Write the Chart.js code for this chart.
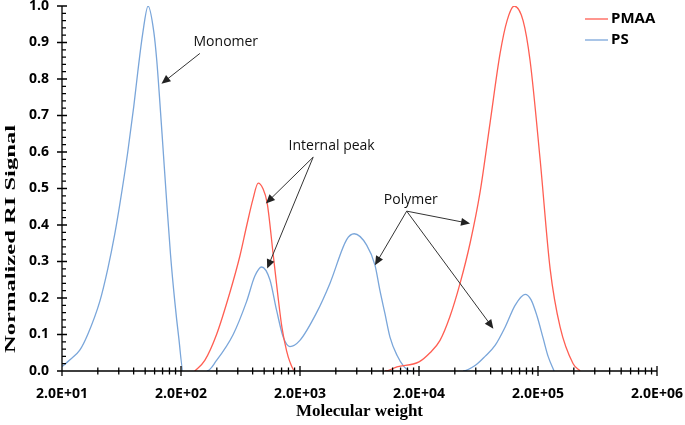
<!DOCTYPE html>
<html>
<head>
<meta charset="utf-8">
<script src="https://cdn.jsdelivr.net/npm/chart.js@4.4.1/dist/chart.umd.min.js"></script>
<style>
  body { margin: 0; background: #fff; }
  #grafico { display: block; }
</style>
</head>
<body>
<canvas id="grafico" width="685" height="425"></canvas>
<script>
// Datos: peso molecular (eje log) y señal RI normalizada
const pesoPS = [20, 23.2, 28.2, 32.9, 41.5, 48.5, 55.5, 61.1, 71.4, 80.2, 86.7, 95.4, 105.8, 118.1, 125.2, 132.6, 140.6, 150.4, 163.2, 177.4, 191.7, 208.3,
  330, 398, 549, 711, 835, 951, 1117, 1272, 1445, 1645, 1996, 2758, 3568, 4932, 5712, 7264, 8532, 9398, 10352, 11406, 13062, 14952, 17124,
  46900, 59160, 71800, 87160, 105780, 128360, 155800, 175000, 196500, 220800, 243200, 273200];
const senalPS = [0.012, 0.03, 0.057, 0.10, 0.19, 0.28, 0.375, 0.455, 0.60, 0.725, 0.82, 0.925, 1.0, 0.93, 0.85, 0.74, 0.62, 0.48, 0.32, 0.19, 0.09, 0,
  0, 0.029, 0.10, 0.19, 0.26, 0.285, 0.25, 0.166, 0.093, 0.067, 0.084, 0.16, 0.24, 0.36, 0.376, 0.345, 0.29, 0.22, 0.157, 0.093, 0.043, 0.012, 0,
  0, 0.015, 0.04, 0.07, 0.12, 0.18, 0.21, 0.195, 0.15, 0.09, 0.04, 0];

const pesoPMAA = [261, 317, 398, 515, 625, 715, 804, 890, 975, 1060, 1190, 1311, 1409, 1543, 1645, 1812,
  10352, 13062, 20000, 24750, 30040, 36460, 44260, 53720, 65200, 79120, 96020, 109940, 125900, 149860, 171640, 208300, 252900, 306900, 394700, 452100];
const senalPMAA = [0, 0.029, 0.10, 0.215, 0.315, 0.40, 0.47, 0.515, 0.50, 0.46, 0.32, 0.20, 0.12, 0.055, 0.025, 0,
  0, 0.011, 0.025, 0.05, 0.084, 0.15, 0.24, 0.35, 0.49, 0.68, 0.87, 0.96, 1.0, 0.96, 0.85, 0.58, 0.28, 0.12, 0.02, 0];

const series = ["PMAA", "PS"];
const colores = ["#FF5E52", "#7AA6DA"];

// Marcas del eje x: cada decada empieza en 2 x 10^n
const decadas = [20, 200, 2000, 20000, 200000, 2000000];

// Textos con flechas (posicion en unidades de los datos)
const anotaciones = [
  { texto: "Monomer", x: 476, y: 0.90, origen: [288, 0.87], puntas: [[137, 0.787]] },
  { texto: "Internal peak", x: 3688, y: 0.616, origen: [2582, 0.586], puntas: [[1034, 0.459], [1060, 0.281]] },
  { texto: "Polymer", x: 17060, y: 0.468, origen: [15760, 0.438], puntas: [[53700, 0.404], [8532, 0.29], [84340, 0.116]] }
];

function armarPuntos(pesos, senales) {
  return pesos.map((p, i) => ({ x: p, y: senales[i] }));
}

function formatoCientifico(valor) {
  const exp = Math.round(Math.log10(valor / 2));
  return "2.0E+" + String(exp).padStart(2, "0");
}

// No dibujar los tramos que quedan sobre el eje (señal 0)
const tramoCero = ctx => (ctx.p0.parsed.y === 0 && ctx.p1.parsed.y === 0) ? "rgba(0,0,0,0)" : undefined;

function flecha(ctx, x0, y0, x1, y1) {
  const ang = Math.atan2(y1 - y0, x1 - x0);
  const largo = 9, ancho = 4;
  ctx.beginPath();
  ctx.moveTo(x0, y0);
  ctx.lineTo(x1 - Math.cos(ang) * largo * 0.8, y1 - Math.sin(ang) * largo * 0.8);
  ctx.stroke();
  ctx.beginPath();
  ctx.moveTo(x1, y1);
  ctx.lineTo(x1 - Math.cos(ang) * largo + Math.sin(ang) * ancho, y1 - Math.sin(ang) * largo - Math.cos(ang) * ancho);
  ctx.lineTo(x1 - Math.cos(ang) * largo - Math.sin(ang) * ancho, y1 - Math.sin(ang) * largo + Math.cos(ang) * ancho);
  ctx.closePath();
  ctx.fill();
}

const dibujoExtra = {
  id: "dibujoExtra",
  afterDatasetsDraw(chart) {
    const ctx = chart.ctx;
    const ejeX = chart.scales.x;
    const ejeY = chart.scales.y;
    const area = chart.chartArea;
    ctx.save();

    // ejes y marcas
    ctx.strokeStyle = "#000";
    ctx.lineWidth = 1.3;
    ctx.beginPath();
    ctx.moveTo(area.left, area.top);
    ctx.lineTo(area.left, area.bottom);
    ctx.lineTo(area.right, area.bottom);
    for (let v = 0; v <= 50; v++) {
      const py = ejeY.getPixelForValue(v / 50);
      const mayor = v % 5 === 0;
      ctx.moveTo(area.left - (mayor ? 5 : 0), py);
      ctx.lineTo(area.left + (mayor ? 5 : 4), py);
    }
    decadas.forEach((d, i) => {
      for (let k = 1; k <= 9; k++) {
        if (i === decadas.length - 1 && k > 1) break;
        const px = ejeX.getPixelForValue(d * k);
        const alto = k === 1 ? 5 : 3.5;
        ctx.moveTo(px, area.bottom - alto);
        ctx.lineTo(px, area.bottom + alto);
      }
    });
    ctx.stroke();

    // etiquetas del eje x
    ctx.fillStyle = "#000";
    ctx.font = "bold 14px 'Open Sans'";
    ctx.textAlign = "center";
    ctx.textBaseline = "middle";
    decadas.forEach(d => {
      ctx.fillText(formatoCientifico(d), ejeX.getPixelForValue(d), area.bottom + 23);
    });

    // titulo del eje y (estirado como en el original)
    ctx.save();
    ctx.font = "bold 15px 'Liberation Serif'";
    const tituloY = "Normalized RI Signal";
    const estirar = 228 / ctx.measureText(tituloY).width;
    ctx.translate(11, 239);
    ctx.rotate(-Math.PI / 2);
    ctx.scale(estirar, 1);
    ctx.fillText(tituloY, 0, 0);
    ctx.restore();

    // leyenda
    ctx.font = "bold 15px 'Open Sans'";
    ctx.textBaseline = "middle";
    ctx.textAlign = "left";
    ctx.lineWidth = 1.3;
    series.forEach((nombre, i) => {
      const y = 19 + i * 21;
      ctx.strokeStyle = colores[i];
      ctx.beginPath();
      ctx.moveTo(585, y);
      ctx.lineTo(608, y);
      ctx.stroke();
      ctx.fillStyle = "#000";
      ctx.fillText(nombre, 611, y);
    });

    // anotaciones con flechas
    ctx.font = "14px 'Open Sans'";
    ctx.textAlign = "center";
    ctx.strokeStyle = "#333";
    ctx.lineWidth = 1;
    anotaciones.forEach(a => {
      ctx.fillStyle = "#111";
      ctx.fillText(a.texto, ejeX.getPixelForValue(a.x), ejeY.getPixelForValue(a.y));
      const ox = ejeX.getPixelForValue(a.origen[0]);
      const oy = ejeY.getPixelForValue(a.origen[1]);
      ctx.fillStyle = "#222";
      a.puntas.forEach(p => {
        flecha(ctx, ox, oy, ejeX.getPixelForValue(p[0]), ejeY.getPixelForValue(p[1]));
      });
    });
    ctx.restore();
  }
};

const fuenteTicks = { family: "'Open Sans'", weight: "bold", size: 14 };

new Chart(document.getElementById("grafico").getContext("2d"), {
  type: "line",
  data: {
    datasets: [
      {
        label: series[0],
        data: armarPuntos(pesoPMAA, senalPMAA),
        borderColor: colores[0],
        borderWidth: 1.3,
        pointRadius: 0,
        cubicInterpolationMode: "monotone",
        segment: { borderColor: tramoCero }
      },
      {
        label: series[1],
        data: armarPuntos(pesoPS, senalPS),
        borderColor: colores[1],
        borderWidth: 1.3,
        pointRadius: 0,
        cubicInterpolationMode: "monotone",
        segment: { borderColor: tramoCero }
      }
    ]
  },
  options: {
    responsive: false,
    animation: false,
    devicePixelRatio: 1,
    layout: { padding: { top: 6, right: 28, left: 0, bottom: 0 } },
    plugins: { legend: { display: false }, tooltip: { enabled: false } },
    scales: {
      x: {
        type: "logarithmic",
        min: 20,
        max: 2000000,
        grid: { display: false, drawTicks: false },
        border: { display: false },
        afterBuildTicks: eje => { eje.ticks = decadas.map(v => ({ value: v })); },
        ticks: { display: false },
        title: { display: true, text: "Molecular weight", color: "#000", font: { family: "'Liberation Serif'", weight: "bold", size: 17 }, padding: { top: 4, bottom: 3 } },
        afterFit: eje => { eje.height = 54; eje.paddingLeft = 0; eje.paddingRight = 0; }
      },
      y: {
        min: 0,
        max: 1,
        grid: { display: false, drawTicks: false },
        border: { display: false },
        ticks: { stepSize: 0.1, callback: v => v.toFixed(1), font: fuenteTicks, color: "#000", padding: 13 },
        afterFit: eje => { eje.width = 62; eje.paddingTop = 0; eje.paddingBottom = 0; }
      }
    }
  },
  plugins: [dibujoExtra]
});
</script>
</body>
</html>
